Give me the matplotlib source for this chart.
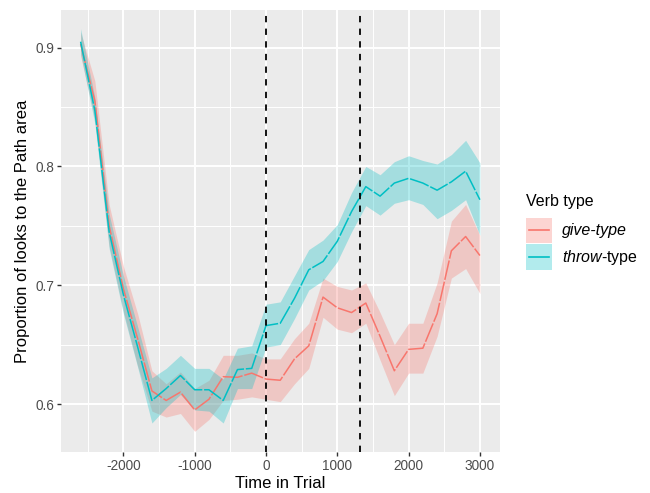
import numpy as np
import matplotlib
matplotlib.use("Agg")
import matplotlib.pyplot as plt
from matplotlib.patches import Rectangle
from matplotlib.lines import Line2D
from matplotlib.ticker import MultipleLocator, FormatStrFormatter

plt.rcParams['font.family'] = ['Liberation Sans', 'DejaVu Sans']
plt.rcParams['mathtext.fontset'] = 'custom'
plt.rcParams['mathtext.rm'] = 'Liberation Sans'
plt.rcParams['mathtext.it'] = 'Liberation Sans:italic'
plt.rcParams['axes.unicode_minus'] = False

# time bins (ms)
time = np.arange(-2600, 3001, 200)

# give-type: mean and ribbon
give_mean = [0.903, 0.855, 0.750, 0.697, 0.655, 0.611, 0.603, 0.610, 0.595, 0.604,
             0.623, 0.6225, 0.626, 0.621, 0.620, 0.638, 0.649, 0.690, 0.681, 0.677,
             0.685, 0.657, 0.628, 0.646, 0.647, 0.676, 0.729, 0.741, 0.725]
give_lo = [0.893, 0.840, 0.733, 0.678, 0.632, 0.594, 0.589, 0.592, 0.577, 0.587,
           0.603, 0.604, 0.606, 0.604, 0.602, 0.617, 0.630, 0.673, 0.663, 0.660,
           0.668, 0.637, 0.607, 0.626, 0.626, 0.657, 0.706, 0.714, 0.693]
give_hi = [0.913, 0.872, 0.768, 0.716, 0.676, 0.628, 0.617, 0.627, 0.613, 0.620,
           0.641, 0.641, 0.643, 0.638, 0.638, 0.655, 0.668, 0.706, 0.699, 0.696,
           0.702, 0.677, 0.650, 0.668, 0.668, 0.702, 0.754, 0.768, 0.742]

# throw-type: mean and ribbon
throw_mean = [0.905, 0.847, 0.745, 0.692, 0.648, 0.603, 0.613, 0.624, 0.612, 0.612,
              0.603, 0.629, 0.630, 0.666, 0.668, 0.689, 0.713, 0.720, 0.737, 0.762,
              0.783, 0.775, 0.786, 0.790, 0.786, 0.780, 0.787, 0.796, 0.772]
throw_lo = [0.895, 0.836, 0.731, 0.676, 0.631, 0.584, 0.597, 0.608, 0.595, 0.594,
            0.584, 0.613, 0.613, 0.648, 0.650, 0.672, 0.696, 0.704, 0.720, 0.745,
            0.767, 0.759, 0.769, 0.772, 0.768, 0.756, 0.763, 0.772, 0.742]
throw_hi = [0.916, 0.858, 0.760, 0.708, 0.665, 0.622, 0.630, 0.641, 0.630, 0.630,
            0.621, 0.647, 0.649, 0.684, 0.686, 0.708, 0.730, 0.738, 0.751, 0.778,
            0.800, 0.793, 0.804, 0.809, 0.805, 0.802, 0.810, 0.822, 0.803]

markers = [0, 1320]

verb_labels = ['give-type', r'$\mathit{throw}$-type']
red = '#F8766D'
teal = '#00BFC4'
W, H = 650, 493

fig = plt.figure(figsize=(6.5, 4.93), dpi=100)
ax = fig.add_axes([61/W, 1-452/H, (500-61)/W, (452-10)/H])
ax.set_facecolor('#EBEBEB')
for s in ax.spines.values():
    s.set_visible(False)

ax.fill_between(time, give_lo, give_hi, color=red, alpha=0.3, lw=0)
ax.fill_between(time, throw_lo, throw_hi, color=teal, alpha=0.3, lw=0)
ax.plot(time, give_mean, color=red, lw=1.1, ls=(0, (13, 1.2)))
ax.plot(time, throw_mean, color=teal, lw=1.1, ls=(0, (13, 1.2)))
for m in markers:
    ax.axvline(m, color='black', lw=1.3, ls=(0, (3.5, 3.5)))

ax.set_xlim(-2875, 3282)
ax.set_ylim(0.5596, 0.9317)
ax.xaxis.set_major_locator(MultipleLocator(1000))
ax.xaxis.set_minor_locator(MultipleLocator(500))
ax.yaxis.set_major_locator(MultipleLocator(0.1))
ax.yaxis.set_minor_locator(MultipleLocator(0.05))
ax.yaxis.set_major_formatter(FormatStrFormatter('%.1f'))
ax.grid(which='major', color='white', lw=1.4)
ax.grid(which='minor', color='white', lw=0.7)
ax.set_axisbelow(True)
ax.tick_params(which='major', length=2.7, width=1, color='#333333',
               labelcolor='#4D4D4D', labelsize=9.8, pad=2)
ax.tick_params(which='minor', length=0)

ax.set_xlabel('Time in Trial', fontsize=12, labelpad=2.5)
ax.set_ylabel('Proportion of looks to the Path area', fontsize=12, labelpad=4)

# legend, drawn by hand in pixel units of the figure
fig.text(526/W, 1-206/H, 'Verb type', fontsize=11.5, ha='left', va='baseline')
key = 25.5
top = 217.7
for i, (lab, col) in enumerate(zip(verb_labels, [red, teal])):
    y0 = top + i * (key + 0.8)
    fig.add_artist(Rectangle((526/W, 1-(y0+key)/H), key/W, key/H,
                             transform=fig.transFigure, facecolor=col, alpha=0.3, lw=0))
    yc = 1-(y0+key/2)/H
    fig.add_artist(Line2D([528.5/W, 549/W], [yc, yc], transform=fig.transFigure,
                          color=col, lw=1.2))
    t = fig.text(561.7/W, 1-(y0+key/2+5)/H, lab, fontsize=11.5, ha='left', va='baseline')
    if i == 0:
        t.set_fontstyle('italic')

fig.savefig('out.png', dpi=100)
